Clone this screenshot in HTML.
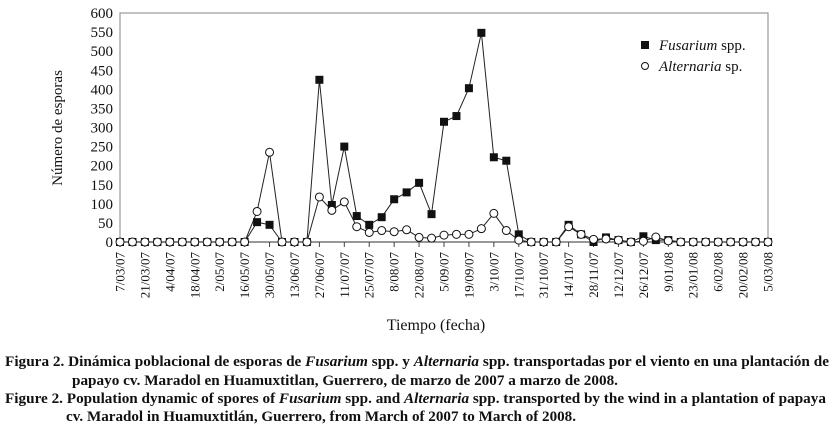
<!DOCTYPE html>
<html><head><meta charset="utf-8"><style>
html,body{margin:0;padding:0;background:#fff;}
svg{display:block;font-family:"Liberation Serif",serif;}
</style></head><body>
<svg id="s" width="829" height="429" viewBox="0 0 829 429" xmlns="http://www.w3.org/2000/svg">
<rect x="120" y="13" width="648" height="229" fill="none" stroke="#999" stroke-width="1.2"/>
<line x1="120" y1="242" x2="768" y2="242" stroke="#444" stroke-width="1"/>
<g id="yt" font-size="15" text-anchor="end" fill="#111"></g>
<g id="xt" font-size="13" fill="#111"></g>
<g id="ser"></g>
<text transform="translate(62,128) rotate(-90)" font-size="15" text-anchor="middle" fill="#111">Número de esporas</text>
<text x="436" y="330" font-size="16" text-anchor="middle" fill="#111">Tiempo (fecha)</text>
<rect x="641" y="41" width="8" height="8" fill="#111"/>
<text x="659" y="50" font-size="15" fill="#111"><tspan font-style="italic">Fusarium</tspan> spp.</text>
<circle cx="645" cy="66" r="3.5" fill="#fff" stroke="#111" stroke-width="1"/>
<text x="659" y="71" font-size="15" fill="#111"><tspan font-style="italic">Alternaria</tspan> sp.</text>
<g font-size="14.5" font-weight="bold" fill="#111">
<text x="5" y="366" textLength="824" lengthAdjust="spacingAndGlyphs">Figura 2.  Dinámica poblacional de esporas de <tspan font-style="italic">Fusarium</tspan> spp. y <tspan font-style="italic">Alternaria</tspan> spp. transportadas por el viento en una plantación de</text>
<text x="72" y="385" textLength="546" lengthAdjust="spacingAndGlyphs">papayo cv. Maradol en Huamuxtitlan, Guerrero, de marzo de 2007 a marzo de 2008.</text>
<text x="5" y="403" textLength="821" lengthAdjust="spacingAndGlyphs">Figure 2. Population dynamic of spores of <tspan font-style="italic">Fusarium</tspan> spp. and <tspan font-style="italic">Alternaria</tspan> spp. transported by the wind in a plantation of papaya</text>
<text x="66" y="421" textLength="510" lengthAdjust="spacingAndGlyphs">cv. Maradol in Huamuxtitlán, Guerrero, from March of 2007 to March of 2008.</text>
</g>
</svg>
<script>
var NS="http://www.w3.org/2000/svg";
function el(t,a,p){var e=document.createElementNS(NS,t);for(var k in a)e.setAttribute(k,a[k]);p.appendChild(e);return e;}
var yt=document.getElementById('yt'),xt=document.getElementById('xt'),ser=document.getElementById('ser');
function Y(v){return 242-v*229/600;}
function X(i){return 120+i*648/52;}
for(var v=0;v<=600;v+=50){var t=el('text',{x:113,y:Y(v)+5},yt);t.textContent=v;}
var labels=["7/03/07","21/03/07","4/04/07","18/04/07","2/05/07","16/05/07","30/05/07","13/06/07","27/06/07","11/07/07","25/07/07","8/08/07","22/08/07","5/09/07","19/09/07","3/10/07","17/10/07","31/10/07","14/11/07","28/11/07","12/12/07","26/12/07","9/01/08","23/01/08","6/02/08","20/02/08","5/03/08"];
for(var j=0;j<labels.length;j++){var x=X(2*j);
 el('line',{x1:x,y1:242,x2:x,y2:247,stroke:'#444','stroke-width':1},xt);
 var t=el('text',{transform:'translate('+(x+4.5)+',252) rotate(-90)','text-anchor':'end'},xt);t.textContent=labels[j];}
var F=[0,0,0,0,0,0,0,0,0,0,0,52,45,0,0,0,425,97,250,68,45,65,112,130,155,73,315,330,403,548,222,213,20,0,0,0,45,20,0,12,5,0,15,5,5,0,0,0,0,0,0,0,0];
var A=[0,0,0,0,0,0,0,0,0,0,0,80,235,0,0,0,118,83,105,40,25,30,27,32,12,10,18,20,20,35,75,30,5,0,0,0,40,20,7,8,5,0,2,13,3,0,0,0,0,0,0,0,0];
function line(d){var p=[];for(var i=0;i<d.length;i++)p.push(X(i).toFixed(1)+','+Y(d[i]).toFixed(1));
 el('polyline',{points:p.join(' '),fill:'none',stroke:'#222','stroke-width':1},ser);}
line(F);line(A);
for(var i=0;i<F.length;i++)el('rect',{x:X(i)-4,y:Y(F[i])-4,width:8,height:8,fill:'#111'},ser);
for(var i=0;i<A.length;i++)el('circle',{cx:X(i),cy:Y(A[i]),r:4,fill:'#fff',stroke:'#111','stroke-width':1},ser);
</script>
</body></html>
